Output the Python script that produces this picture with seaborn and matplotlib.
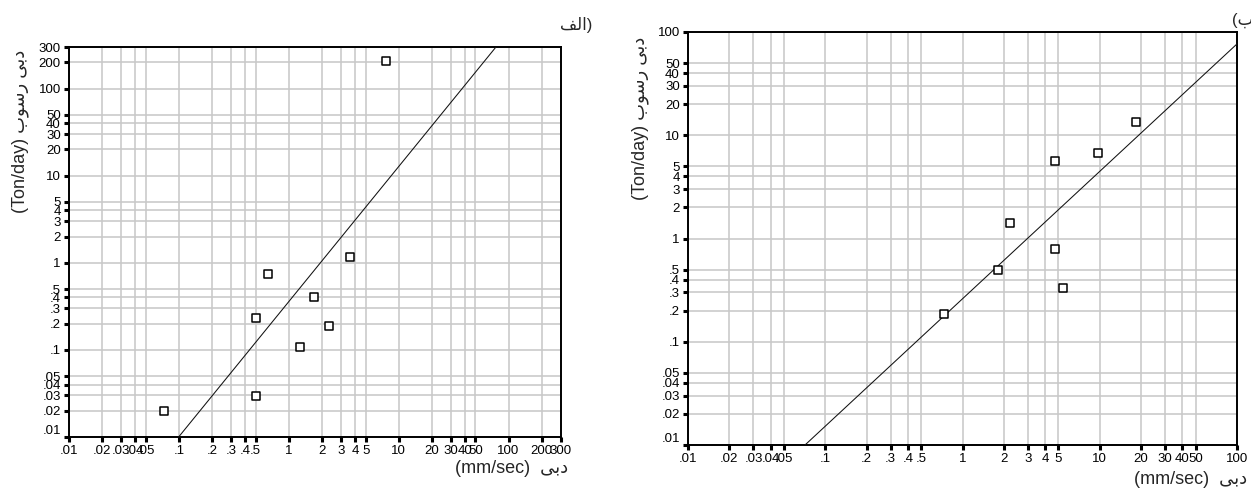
import numpy as np
import pandas as pd
import matplotlib
matplotlib.use("Agg")
import matplotlib.pyplot as plt
import seaborn as sns
from matplotlib.ticker import FixedLocator, FuncFormatter, NullLocator

# ---------------- data ----------------
# panel "الف"
left_q = [7.6, 3.6, 0.65, 1.68, 0.50, 2.3, 1.27, 0.50, 0.073]
left_s = [206, 1.15, 0.74, 0.41, 0.23, 0.187, 0.109, 0.0296, 0.020]
# panel "ب"
right_q = [1.81, 0.73, 2.22, 4.7, 9.75, 18.3, 4.7, 5.4]
right_s = [0.50, 0.186, 1.42, 5.6, 6.7, 13.5, 0.80, 0.33]

left_ticks = [.01, .02, .03, .04, .05, .1, .2, .3, .4, .5, 1, 2, 3, 4, 5,
              10, 20, 30, 40, 50, 100, 200, 300]
right_ticks = [.01, .02, .03, .04, .05, .1, .2, .3, .4, .5, 1, 2, 3, 4, 5,
               10, 20, 30, 40, 50, 100]

# Persian texts (pre-shaped presentation forms, visual order)
x_label = "(mm/sec)  \uFBFD\uFE91\uFEA9"                 # دبی (mm/sec)
y_label = "(Ton/day) \uFE8F\uFEEE\uFEB3\uFEAD \uFBFD\uFE91\uFEA9"  # دبی رسوب (Ton/day)
title_left = "\uFED2\uFEDF\uFE8D)"                        # الف)
title_right = "(\uFE8F"                                   # ب)

# ---------------- style ----------------
sns.set_theme(style="ticks")
plt.rcParams["font.family"] = ["Liberation Sans", "DejaVu Sans"]

fig = plt.figure(figsize=(12.51, 4.96), dpi=100)
axL = fig.add_axes([69 / 1251, 1 - 437 / 496, 492 / 1251, 390 / 496])
axR = fig.add_axes([688 / 1251, 1 - 445 / 496, 549 / 1251, 413 / 496])


def fmt(v, pos=None):
    s = f"{v:g}"
    if s.startswith("0."):
        s = s[1:]
    return s


def style_axes(ax, ticks_x, ticks_y, lims_x, lims_y, q, s):
    df = pd.DataFrame({"q": q, "s": s})
    ax.set_xscale("log")
    ax.set_yscale("log")
    ax.set_xlim(*lims_x)
    ax.set_ylim(*lims_y)
    # regression line (OLS in log-log space)
    b, a = np.polyfit(np.log10(df["q"]), np.log10(df["s"]), 1)
    xx = np.array(lims_x, dtype=float)
    yy = 10 ** (a + b * np.log10(xx))
    sns.lineplot(x=xx, y=yy, ax=ax, color="#111111", lw=0.75, sort=False,
                 zorder=3)
    sns.scatterplot(data=df, x="q", y="s", ax=ax, marker="s", s=28,
                    facecolor="white", edgecolor="black", linewidth=1.1,
                    zorder=4)
    ax.xaxis.set_major_locator(FixedLocator(ticks_x))
    ax.yaxis.set_major_locator(FixedLocator(ticks_y))
    ax.xaxis.set_minor_locator(NullLocator())
    ax.yaxis.set_minor_locator(NullLocator())
    ax.xaxis.set_major_formatter(FuncFormatter(fmt))
    ax.yaxis.set_major_formatter(FuncFormatter(fmt))
    ax.grid(True, which="major", color="#c8c8c8", lw=1.15)
    ax.set_axisbelow(True)
    for sp in ax.spines.values():
        sp.set_visible(True)
        sp.set_color("black")
        sp.set_linewidth(1.4)
    ax.tick_params(axis="both", which="major", direction="out", length=3.4,
                   width=2.2, color="black", labelsize=9.5, pad=2.5,
                   labelcolor="black")
    ax.tick_params(top=False, right=False)
    # lowest y label sits above its tick
    labs = ax.get_yticklabels()
    if labs:
        labs[0].set_va("bottom")
    ax.set_xlabel("")
    ax.set_ylabel("")


style_axes(axL, left_ticks, left_ticks, (0.01, 300), (0.01, 300), left_q, left_s)
style_axes(axR, right_ticks, right_ticks, (0.01, 100), (0.01, 100), right_q, right_s)

for ax, xl_coords, yl_coords in [
    (axL, (1.014, -0.0795), (-0.0996, 0.992)),
    (axR, (1.018, -0.0847), (-0.0874, 0.988)),
]:
    ax.set_xlabel(x_label, fontsize=13, loc="right")
    ax.xaxis.label.set_va("center")
    ax.xaxis.set_label_coords(*xl_coords)
    ax.set_ylabel(y_label, fontsize=13, loc="top")
    ax.yaxis.label.set_va("center")
    ax.yaxis.set_label_coords(*yl_coords)

fig.text(576 / 1251, 1 - 25 / 496, title_left, fontsize=12, ha="center",
         va="center")
fig.text(1232 / 1251, 1 - 20 / 496, title_right, fontsize=12, ha="left",
         va="center")

fig.savefig("out.png", dpi=100)
